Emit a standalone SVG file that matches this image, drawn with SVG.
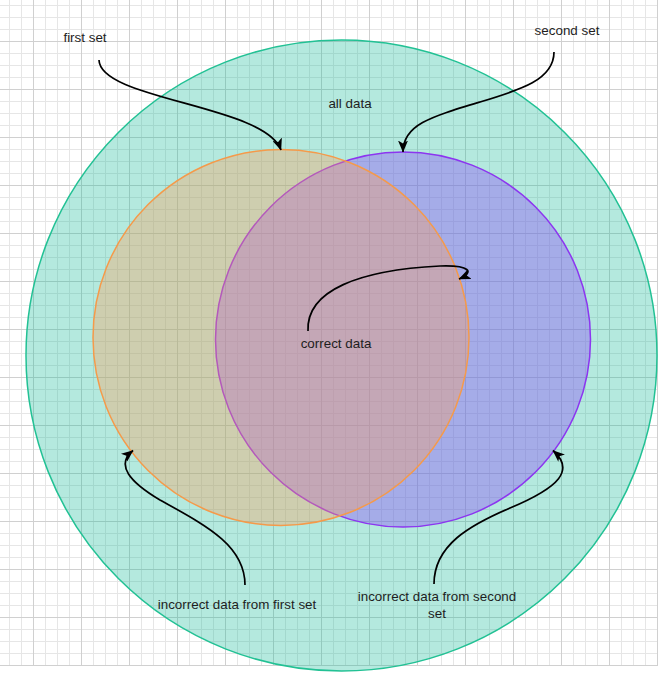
<svg xmlns="http://www.w3.org/2000/svg" width="661" height="676" viewBox="0 0 661 676">
  <style>
    .lbl { font-family: "Liberation Sans", Arial, sans-serif; font-size: 13.4px; fill: #1e1e1e; text-anchor: middle; }
    .conn { fill: none; stroke: #000; stroke-width: 1.7; marker-end: url(#arrow); }
  </style>
  <defs>
    <pattern id="grid" patternUnits="userSpaceOnUse" x="33" y="41" width="48" height="48">
      <path d="M12.5 0V48M24.5 0V48M36.5 0V48M0 12.5H48M0 24.5H48M0 36.5H48" stroke="#e6e6e6" stroke-width="1" fill="none"/>
      <path d="M0.5 0V48M0 0.5H48" stroke="#d0d0d0" stroke-width="1" fill="none"/>
    </pattern>
    <marker id="arrow" viewBox="0 0 12 10" refX="11.5" refY="5" markerWidth="12" markerHeight="10" markerUnits="userSpaceOnUse" orient="auto">
      <path d="M0 0L12 5L0 10L3 5z" fill="#000"/>
    </marker>
  </defs>
  <rect width="661" height="676" fill="#fff"/>
  <rect x="0" y="0" width="658" height="666" fill="url(#grid)"/>

  <g id="all-data">
    <circle cx="341.5" cy="355.5" r="315.5" fill="#1abc9c" fill-opacity="0.33" stroke="#22c194" stroke-width="1.5"/>
    <text class="lbl" x="350" y="107.5">all data</text>
  </g>
  <g id="second-set-circle">
    <circle cx="403" cy="339.5" r="187.5" fill="#8e4ff8" fill-opacity="0.4" stroke="#8c35f0" stroke-width="1.5"/>
  </g>
  <g id="first-set-circle">
    <circle cx="281" cy="337.5" r="188" fill="#ff9f5a" fill-opacity="0.35" stroke="#f59a4a" stroke-width="1.5"/>
  </g>

  <g id="connectors">
    <path class="conn" d="M99 60C100 100 265 105 281 150"/>
    <path class="conn" d="M554 52C554 80 520 90 480 102C430 117 403 125 403 152"/>
    <path class="conn" d="M308 331C306 290 360 270 440 266C470 265 475 272 459 279"/>
    <path class="conn" d="M245 585C245 545 205 525 160 500C130 482 115 465 133 450.5"/>
    <path class="conn" d="M434 584C434 545 470 525 510 508C560 487 575 470 553 450.5"/>
  </g>

  <g id="label-first-set"><text class="lbl" x="85" y="42">first set</text></g>
  <g id="label-second-set"><text class="lbl" x="567" y="35">second set</text></g>
  <g id="label-correct-data"><text class="lbl" x="336" y="347.5">correct data</text></g>
  <g id="label-incorrect-first"><text class="lbl" x="237" y="609">incorrect data from first set</text></g>
  <g id="label-incorrect-second">
    <text class="lbl" x="437" y="601">incorrect data from second</text>
    <text class="lbl" x="437" y="617.5">set</text>
  </g>
</svg>
